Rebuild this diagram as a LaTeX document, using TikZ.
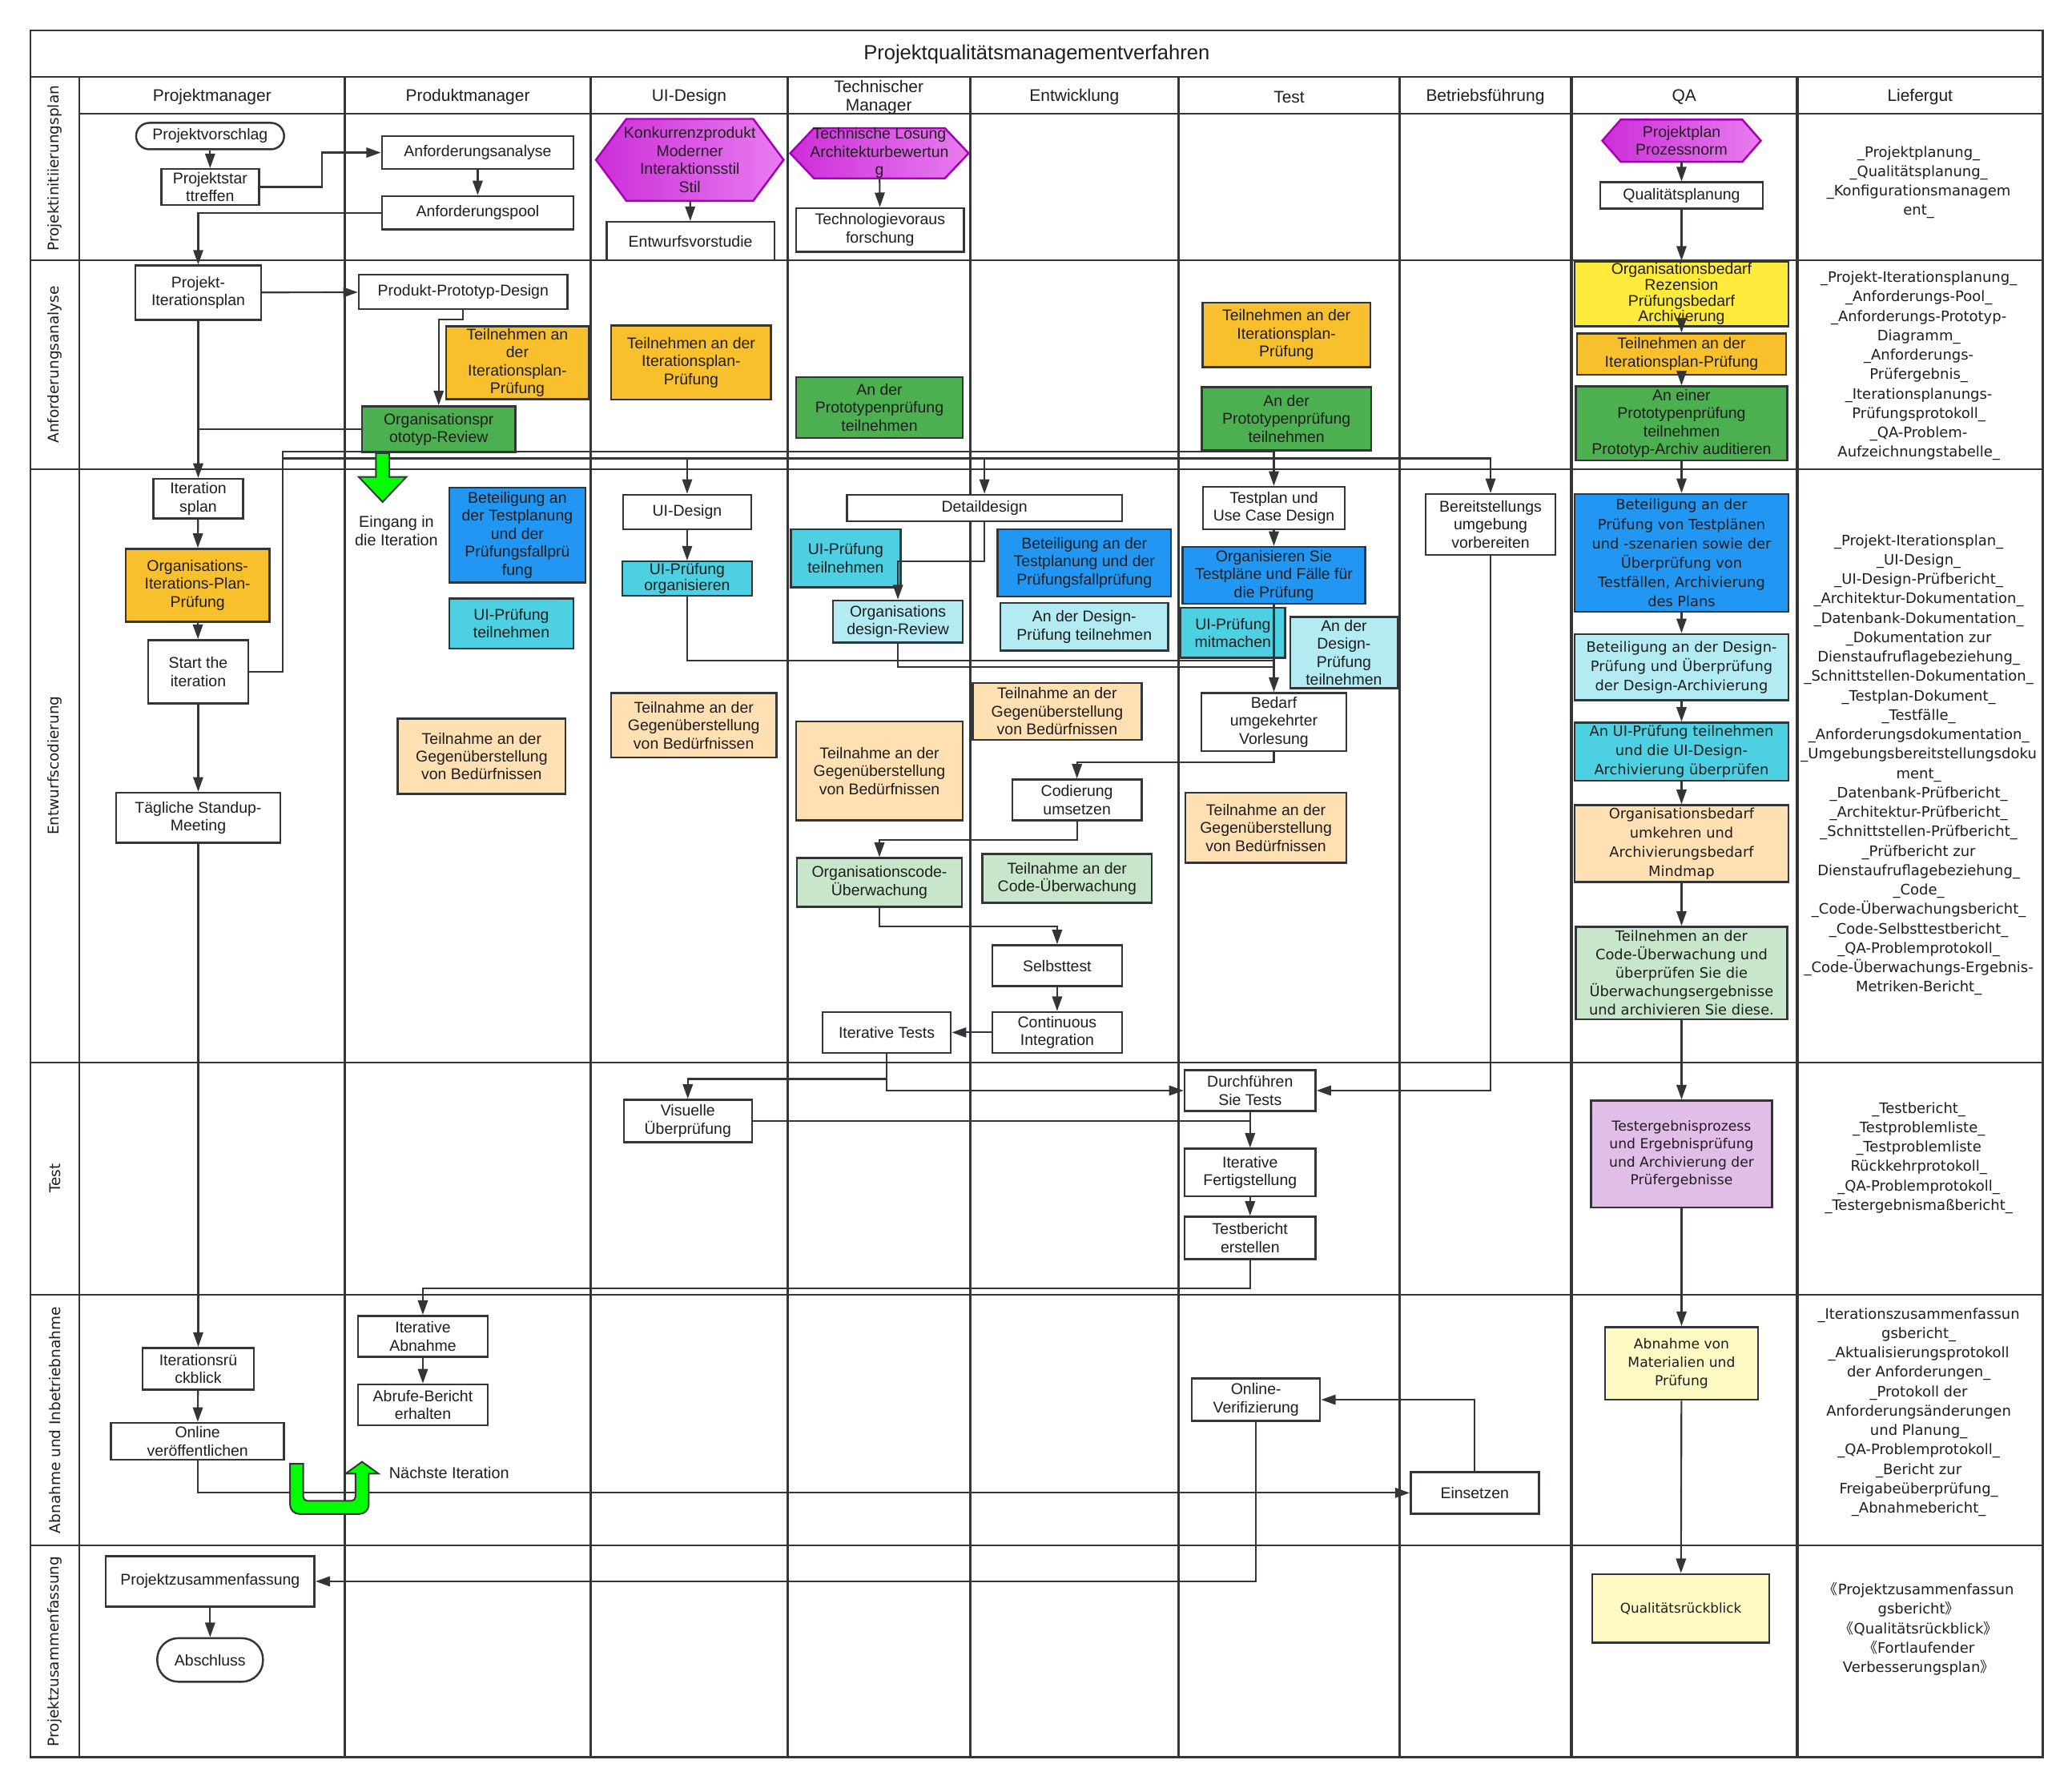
\documentclass[tikz,border=0pt]{standalone}
\usepackage{fontspec}
\setmainfont{Liberation Sans}
\newfontfamily\wideface{DejaVu Sans}
\newfontfamily\cjkface{Noto Sans CJK SC}
\usepackage{tikz}
\usetikzlibrary{arrows.meta}

\definecolor{ln}{RGB}{51,54,57}
\definecolor{txt}{RGB}{30,30,30}
\definecolor{magL}{RGB}{204,46,216}
\definecolor{magR}{RGB}{232,124,240}
\definecolor{magB}{RGB}{166,0,181}
\definecolor{orangeF}{RGB}{249,192,46}
\definecolor{greenF}{RGB}{76,175,80}
\definecolor{blueF}{RGB}{33,150,243}
\definecolor{cyanF}{RGB}{77,208,225}
\definecolor{lcyanF}{RGB}{178,235,242}
\definecolor{peachF}{RGB}{255,224,178}
\definecolor{lgreenF}{RGB}{200,230,201}
\definecolor{yellowF}{RGB}{255,235,59}
\definecolor{purpleF}{RGB}{225,190,231}
\definecolor{lyellowF}{RGB}{255,249,196}
\definecolor{limeF}{RGB}{0,255,0}

\begin{document}
\begin{tikzpicture}[
    x=1pt, y=-1pt,
    lbl/.style={rectangle, align=center, inner sep=0.5pt, text=txt,
        font=\fontsize{11.8}{13.6}\selectfont},
    box/.style={lbl, draw=ln, line width=1.5pt, fill=white},
    qabox/.style={box, font=\wideface\fontsize{10.8}{14.6}\selectfont},
    term/.style={box, rounded corners=10pt},
    sz/.style 2 args={minimum width=#1, minimum height=#2},
    ora/.style={fill=orangeF},
    grn/.style={fill=greenF},
    blu/.style={fill=blueF},
    cya/.style={fill=cyanF},
    lcy/.style={fill=lcyanF},
    pch/.style={fill=peachF},
    lgr/.style={fill=lgreenF},
    yel/.style={fill=yellowF},
    pur/.style={fill=purpleF},
    lye/.style={fill=lyellowF},
    colhead/.style={align=center, text=txt, font=\fontsize{12.7}{14}\selectfont},
    lanelabel/.style={text=txt, rotate=90, font=\wideface\fontsize{11.2}{13}\selectfont},
    deliv/.style={align=center, inner sep=0pt, text=txt,
        font=\wideface\fontsize{10.9}{14.7}\selectfont},
    flow/.style={draw=ln, line width=1.3pt, -{Triangle[length=11pt,width=7.5pt]}},
    conn/.style={draw=ln, line width=1.3pt},
    hexa/.style={draw=magB, line width=1.5pt, left color=magL, right color=magR},
    fatarrow/.style={fill=limeF, draw=ln, line width=1.2pt},
    rowline/.style={draw=ln, line width=1.2pt},
    colline/.style={draw=ln, line width=1.8pt}
]
\fill[white] (0,0) rectangle (1568,1353);
\useasboundingbox (0,0) rectangle (1568,1353);

% swimlane grid
\draw[rowline, line width=1.6pt] (23,23) rectangle (1546,1330);
\draw[rowline] (23,58) -- (1546,58);
\draw[rowline] (60,86) -- (1546,86);
\foreach \y in {197,355,804,980,1170}
    \draw[rowline] (23,\y) -- (1546,\y);
\foreach \x in {60,261,447,596,734,892,1059}
    \draw[colline] (\x,58) -- (\x,1330);
\foreach \x in {1189,1360}
    \draw[colline, line width=2.4pt] (\x,58) -- (\x,1330);

\node[text=txt, font=\fontsize{15.5}{18}\selectfont] (title) at (784.5,41) {Projektqualitätsmanagementverfahren};
\foreach \x/\t [count=\i] in {160.5/Projektmanager, 354/Produktmanager, 521.5/UI-Design,
        665/{Technischer\\Manager}, 813/Entwicklung, 975.5/Test, 1124/Betriebsführung,
        1274.5/QA, 1453/Liefergut}
    \node[colhead] (hd\i) at (\x,73.5) {\t};
\foreach \y/\t [count=\i] in {127.5/Projektinitiierungsplan, 276/Anforderungsanalyse,
        579.5/Entwurfscodierung, 892/Test, 1075/Abnahme und Inbetriebnahme,
        1250/Projektzusammenfassung}
    \node[lanelabel] (lane\i) at (41.5,\y) {\t};

% Projektinitiierungsplan
\node[term, sz={112}{20}] (pv) at (159,103) {Projektvorschlag};
\node[box, sz={74}{27}] (pst) at (159,141.5) {Projektstar\\ttreffen};
\node[box, sz={145}{25}] (aa) at (361.5,115.5) {Anforderungsanalyse};
\node[box, sz={145}{25}] (ap) at (361.5,161) {Anforderungspool};
\path[hexa] (451,121) -- (474,90) -- (570,90) -- (593,121) -- (570,152) -- (474,152) -- cycle;
\node[lbl, sz={142}{62}] (kp) at (522,121) {Konkurrenzprodukt\\Moderner\\Interaktionsstil\\Stil};
\node[box, sz={127}{29}] (ev) at (522.5,182.5) {Entwurfsvorstudie};
\path[hexa] (598,116) -- (616,97) -- (715,97) -- (733,116) -- (715,135) -- (616,135) -- cycle;
\node[lbl, sz={135}{38}] (tl) at (665.5,116) {Technische Lösung\\Architekturbewertun\\g};
\node[box, sz={127}{33}] (tv) at (666,174) {Technologievoraus\\forschung};
\path[hexa] (1212.5,106.5) -- (1226.5,90.5) -- (1318.5,90.5) -- (1332.5,106.5) -- (1318.5,122.5) -- (1226.5,122.5) -- cycle;
\node[lbl, sz={120}{32}] (pp) at (1272.5,106.5) {Projektplan\\Prozessnorm};
\node[box, sz={123}{20}] (qp) at (1272.5,148) {Qualitätsplanung};

% Anforderungsanalyse
\node[box, sz={95}{41}] (pi) at (150,221.5) {Projekt-\\Iterationsplan};
\node[box, sz={158}{26}] (ppd) at (350.5,221) {Produkt-Prototyp-Design};
\node[box, ora, sz={108}{55}] (tpm) at (391.5,274.5) {Teilnehmen an\\der\\Iterationsplan-\\Prüfung};
\node[box, grn, sz={116}{35}] (opr) at (332,325) {Organisationspr\\ototyp-Review};
\node[box, ora, sz={121}{56}] (tui) at (523,274.5) {Teilnehmen an der\\Iterationsplan-\\Prüfung};
\node[box, grn, sz={126}{46}] (atm) at (665.5,308.5) {An der\\Prototypenprüfung\\teilnehmen};
\node[box, ora, sz={127}{49}] (tte) at (973.5,253.5) {Teilnehmen an der\\Iterationsplan-\\Prüfung};
\node[box, grn, sz={128}{48}] (ate) at (973.5,317) {An der\\Prototypenprüfung\\teilnehmen};
\node[box, yel, sz={162}{49}, font=\fontsize{11.8}{12}\selectfont] (orgb) at (1272.5,222.5) {Organisationsbedarf\\Rezension\\Prüfungsbedarf\\Archivierung};
\node[box, ora, sz={158}{31}] (tiq) at (1272.5,268) {Teilnehmen an der\\Iterationsplan-Prüfung};
\node[box, grn, sz={160}{56}] (apq) at (1272.5,320.5) {An einer\\Prototypenprüfung\\teilnehmen\\Prototyp-Archiv auditieren};

% Entwurfscodierung
\node[box, sz={68}{30}] (itp) at (150,377.5) {Iteration\\splan};
\node[box, ora, sz={109}{55}] (oip) at (149.5,443) {Organisations-\\Iterations-Plan-\\Prüfung};
\node[box, sz={76}{48}] (sti) at (150,508.5) {Start the\\iteration};
\node[box, sz={124}{38}] (tsm) at (150,619) {Tägliche Standup-\\Meeting};
\node[text=txt, align=center, font=\fontsize{12}{14}\selectfont] (eing) at (300,402) {Eingang in\\die Iteration};
\node[box, blu, sz={103}{72}] (bpm) at (391.5,405) {Beteiligung an\\der Testplanung\\und der\\Prüfungsfallprü\\fung};
\node[box, cya, sz={94}{38}] (upm) at (387,472) {UI-Prüfung\\teilnehmen};
\node[box, pch, sz={127}{57}] (gpm) at (364.5,572.5) {Teilnahme an der\\Gegenüberstellung\\von Bedürfnissen};
\node[box, sz={97}{26}] (uid) at (520,387.5) {UI-Design};
\node[box, cya, sz={98}{26}, font=\fontsize{11.8}{12.5}\selectfont] (upo) at (520,438) {UI-Prüfung\\organisieren};
\node[box, pch, sz={125}{49}] (gui) at (525,549) {Teilnahme an der\\Gegenüberstellung\\von Bedürfnissen};
\node[box, sz={208}{20}] (dd) at (745,384.5) {Detaildesign};
\node[box, cya, sz={83}{44}] (utm) at (640,422.5) {UI-Prüfung\\teilnehmen};
\node[box, lcy, sz={98}{32}] (odr) at (679.5,470.5) {Organisations\\design-Review};
\node[box, pch, sz={126}{75}] (gtm) at (665.5,583.5) {Teilnahme an der\\Gegenüberstellung\\von Bedürfnissen};
\node[box, lgr, sz={125}{37}] (ocu) at (665.5,668) {Organisationscode-\\Überwachung};
\node[box, sz={97}{31}] (it) at (671,781.5) {Iterative Tests};
\node[box, blu, sz={131}{51}] (bpe) at (820.5,426) {Beteiligung an der\\Testplanung und der\\Prüfungsfallprüfung};
\node[box, lcy, sz={127}{36}] (ade) at (820.5,474.5) {An der Design-\\Prüfung teilnehmen};
\node[box, pch, sz={128}{43}] (gen) at (800,538.5) {Teilnahme an der\\Gegenüberstellung\\von Bedürfnissen};
\node[box, sz={98}{31}] (cu) at (815,605.5) {Codierung\\umsetzen};
\node[box, lgr, sz={128}{37}] (cue) at (807.5,665) {Teilnahme an der\\Code-Überwachung};
\node[box, sz={98}{31}] (st) at (800,731) {Selbsttest};
\node[box, sz={98}{31}] (ci) at (800,781.5) {Continuous\\Integration};
\node[box, sz={107}{32}] (tpu) at (964,384.5) {Testplan und\\Use Case Design};
\node[box, blu, sz={138}{43}] (ots) at (964,435.5) {Organisieren Sie\\Testpläne und Fälle für\\die Prüfung};
\node[box, cya, sz={79}{38}] (umt) at (933,479) {UI-Prüfung\\mitmachen};
\node[box, lcy, sz={81}{54}] (adt) at (1017,494) {An der\\Design-\\Prüfung\\teilnehmen};
\node[box, sz={110}{44}] (buv) at (964,546.5) {Bedarf\\umgekehrter\\Vorlesung};
\node[box, pch, sz={122}{53}] (gte) at (958,626.5) {Teilnahme an der\\Gegenüberstellung\\von Bedürfnissen};
\node[box, sz={98}{46}] (bum) at (1128,397) {Bereitstellungs\\umgebung\\vorbereiten};
\node[qabox, blu, sz={162}{89}] (bpq) at (1272.5,418.5) {Beteiligung an der\\Prüfung von Testplänen\\und -szenarien sowie der\\Überprüfung von\\Testfällen, Archivierung\\des Plans};
\node[qabox, lcy, sz={162}{50}] (bdq) at (1272.5,505) {Beteiligung an der Design-\\Prüfung und Überprüfung\\der Design-Archivierung};
\node[qabox, cya, sz={162}{44}] (uiq) at (1272.5,569) {An UI-Prüfung teilnehmen\\und die UI-Design-\\Archivierung überprüfen};
\node[qabox, pch, sz={162}{58}] (obq) at (1272.5,638.5) {Organisationsbedarf\\umkehren und\\Archivierungsbedarf\\Mindmap};
\node[qabox, lgr, sz={160}{70}, font=\wideface\fontsize{10.8}{14}\selectfont] (cuq) at (1272.5,736.5) {Teilnehmen an der\\Code-Überwachung und\\überprüfen Sie die\\Überwachungsergebnisse\\und archivieren Sie diese.};

% Test
\node[box, sz={97}{32}] (vu) at (520.5,848.5) {Visuelle\\Überprüfung};
\node[box, sz={99}{31}] (dst) at (946,825.5) {Durchführen\\Sie Tests};
\node[box, sz={99}{36}] (ifs) at (946,887.5) {Iterative\\Fertigstellung};
\node[box, sz={99}{32}] (tbe) at (946,937) {Testbericht\\erstellen};
\node[qabox, pur, sz={137}{81}, font=\wideface\fontsize{10.4}{13.7}\selectfont] (teq) at (1272.5,873.5) {Testergebnisprozess\\und Ergebnisprüfung\\und Archivierung der\\Prüfergebnisse};

% Abnahme und Inbetriebnahme
\node[box, sz={84}{31.5}] (irb) at (150,1036) {Iterationsrü\\ckblick};
\node[box, sz={131}{28}] (ov) at (149.5,1091) {Online\\veröffentlichen};
\node[box, sz={98}{31}] (iab) at (320,1011.5) {Iterative\\Abnahme};
\node[box, sz={98}{31}] (abe) at (320,1063.5) {Abrufe-Bericht\\erhalten};
\node[text=txt, anchor=west, font=\fontsize{12}{14}\selectfont] (nit) at (291,1115) {Nächste Iteration};
\node[box, sz={97}{32}] (onv) at (950.5,1059.5) {Online-\\Verifizierung};
\node[box, sz={97}{31.5}] (ein) at (1116,1130) {Einsetzen};
\node[qabox, lye, sz={116}{55}, font=\wideface\fontsize{10.4}{13.7}\selectfont] (amp) at (1272.5,1032) {Abnahme von\\Materialien und\\Prüfung};

% Projektzusammenfassung
\node[box, sz={158}{38}] (pzf) at (159,1197) {Projektzusammenfassung};
\node[term, rounded corners=16pt, sz={80}{33}] (abs) at (159,1256.5) {Abschluss};
\node[qabox, lye, sz={134}{52}, font=\wideface\fontsize{10.2}{13.7}\selectfont] (qrb) at (1272,1217.5) {Qualitätsrückblick};

% Liefergut
\node[deliv] (lg1) at (1452,138) {\_Projektplanung\_\\\_Qualitätsplanung\_\\\_Konfigurationsmanagem\\ent\_};
\node[deliv] (lg2) at (1452,277) {\_Projekt-Iterationsplanung\_\\\_Anforderungs-Pool\_\\\_Anforderungs-Prototyp-\\Diagramm\_\\\_Anforderungs-\\Prüfergebnis\_\\\_Iterationsplanungs-\\Prüfungsprotokoll\_\\\_QA-Problem-\\Aufzeichnungstabelle\_};
\node[deliv] (lg3) at (1452,579) {\_Projekt-Iterationsplan\_\\\_UI-Design\_\\\_UI-Design-Prüfbericht\_\\\_Architektur-Dokumentation\_\\\_Datenbank-Dokumentation\_\\\_Dokumentation zur\\Dienstaufruflagebeziehung\_\\\_Schnittstellen-Dokumentation\_\\\_Testplan-Dokument\_\\\_Testfälle\_\\\_Anforderungsdokumentation\_\\\_Umgebungsbereitstellungsdoku\\ment\_\\\_Datenbank-Prüfbericht\_\\\_Architektur-Prüfbericht\_\\\_Schnittstellen-Prüfbericht\_\\\_Prüfbericht zur\\Dienstaufruflagebeziehung\_\\\_Code\_\\\_Code-Überwachungsbericht\_\\\_Code-Selbsttestbericht\_\\\_QA-Problemprotokoll\_\\\_Code-Überwachungs-Ergebnis-\\Metriken-Bericht\_};
\node[deliv] (lg4) at (1452,876.5) {\_Testbericht\_\\\_Testproblemliste\_\\\_Testproblemliste\\Rückkehrprotokoll\_\\\_QA-Problemprotokoll\_\\\_Testergebnismaßbericht\_};
\node[deliv] (lg5) at (1452,1069) {\_Iterationszusammenfassun\\gsbericht\_\\\_Aktualisierungsprotokoll\\der Anforderungen\_\\\_Protokoll der\\Anforderungsänderungen\\und Planung\_\\\_QA-Problemprotokoll\_\\\_Bericht zur\\Freigabeüberprüfung\_\\\_Abnahmebericht\_};
\node[deliv] (lg6) at (1452,1233) {{\cjkface 《}Projektzusammenfassun\\gsbericht{\cjkface 》}\\{\cjkface 《}Qualitätsrückblick{\cjkface 》}\\{\cjkface 《}Fortlaufender\\Verbesserungsplan{\cjkface 》}};

% connectors
\coordinate (busa) at (214,342);
\coordinate (busb) at (214,347);
\coordinate (jui) at (964,500);
\coordinate (jod) at (964,505);

\draw[flow] (pv) -- (pst);
\draw[flow] (pst.east) -- ++(47,0) |- (aa.west);
\draw[flow] (aa) -- (ap);
\draw[flow] (ap.west) -| (pi.north);
\draw[flow] (kp) -- (ev);
\draw[flow] (tl) -- (tv);
\draw[flow] (pp) -- (qp);
\draw[flow] (qp) -- (orgb);
\draw[flow] (pi) -- (ppd);
\draw[flow] (ppd.south) -- ++(0,7) -| (opr.north);
\draw[conn] (opr.west) -- (pi.south |- opr.west);
\draw[flow] (pi) -- (itp);
\draw[flow] (orgb) -- (tiq);
\draw[flow] (tiq) -- (apq);
\draw[flow] (apq) -- (bpq);
\draw[flow] (bpq) -- (bdq);
\draw[flow] (bdq) -- (uiq);
\draw[flow] (uiq) -- (obq);
\draw[flow] (obq) -- (cuq);
\draw[flow] (cuq) -- (teq);
\draw[flow] (teq) -- (amp);
\draw[flow] (amp) -- (qrb);

\draw[flow] (sti.east) -| (busa) -| (tpu.north);
\draw[flow] (busb) -| (bum.north);
\draw[flow] (busb -| uid.north) -- (uid.north);
\draw[flow] (busb -| dd.north) -- (dd.north);
\draw[flow] (itp) -- (oip);
\draw[flow] (oip) -- (sti);
\draw[flow] (sti) -- (tsm);
\draw[flow] (tsm) -- (irb);
\draw[flow] (uid) -- (upo);
\draw[conn] (upo.south) |- (jui);
\draw[conn] (odr.south) |- (jod);
\draw[flow] (tpu) -- (ots);
\draw[flow] (ots) -- (buv);
\draw[flow] (dd.south) -- ++(0,29.5) -| (odr.north);
\draw[flow] (buv.south) -- ++(0,8) -| (cu.north);
\draw[flow] (cu.south) -- ++(0,14) -| (ocu.north);
\draw[flow] (ocu.south) -- ++(0,14) -| (st.north);
\draw[flow] (st) -- (ci);
\draw[flow] (ci) -- (it);
\draw[flow] (it.south) -- ++(0,19) -| (vu.north);
\draw[flow] (it.south) |- (dst.west);
\draw[flow] (bum.south) |- (dst.east);
\draw[conn] (vu.east) -- (vu.east -| dst.south);
\draw[flow] (dst) -- (ifs);
\draw[flow] (ifs) -- (tbe);
\draw[flow] (tbe.south) -- ++(0,21.5) -| (iab.north);
\draw[flow] (iab) -- (abe);
\draw[flow] (irb) -- (ov);
\draw[flow] (ov.south) |- (ein.west);
\draw[flow] (ein.north) |- (onv.east);
\draw[flow] (onv.south) |- (pzf.east);
\draw[flow] (pzf) -- (abs);

% green block arrows
\path[fatarrow] (284.5,343) -- (294.5,343) -- (294.5,361) -- (307.5,361) -- (289.5,380)
    -- (271.5,361) -- (284.5,361) -- cycle;
\path[fatarrow] (219.5,1108) [rounded corners=7] -- (219.5,1146) -- (279,1146) [sharp corners]
    -- (279,1115.5) -- (286.5,1115.5) -- (274,1106.5) -- (261.5,1115.5) -- (269,1115.5)
    [rounded corners=3] -- (269,1136) -- (229.5,1136) [sharp corners] -- (229.5,1108) -- cycle;
\end{tikzpicture}
\end{document}
